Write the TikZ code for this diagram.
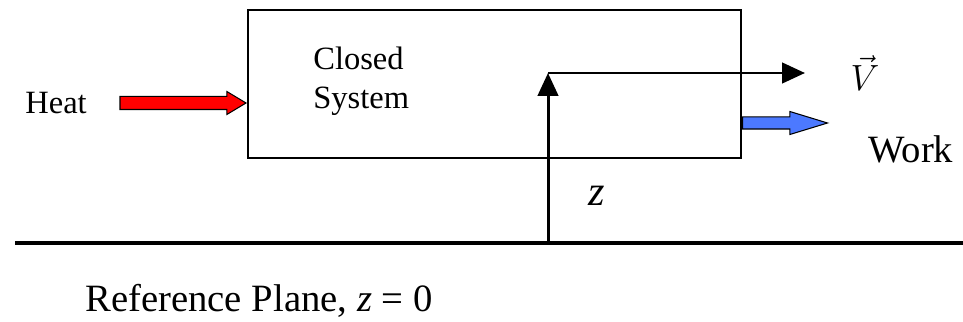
\documentclass[tikz,border=0pt]{standalone}
\usepackage{fontspec}
\setmainfont{Liberation Serif}
\usetikzlibrary{calc,arrows.meta,positioning,shapes.arrows}
\tikzset{
  sysbox/.style={draw=black, line width=1.1pt, minimum width=9.86cm, minimum height=2.96cm},
  lbl/.style={font=\fontsize{18.5}{22}\selectfont, align=left, inner sep=0pt},
  bigarrow/.style={single arrow, draw=black, line width=0.6pt, inner sep=0pt,
    single arrow head indent=0pt, shape border rotate=0},
  heatarr/.style={bigarrow, fill=red, minimum height=2.52cm, minimum width=0.44cm,
    inner ysep=0.12cm, single arrow head extend=0.1cm, single arrow tip angle=62},
  workarr/.style={bigarrow, fill=blue!75!cyan!70!white, minimum height=1.7cm, minimum width=0.44cm,
    inner ysep=0.11cm, single arrow head extend=0.11cm, single arrow tip angle=34},
  axarr/.style={-{Triangle[length=0.46cm,width=0.41cm]}, line width=1.7pt},
  ground/.style={line width=2.8pt}
}
\begin{document}
\begin{tikzpicture}
  \useasboundingbox (0,0) rectangle (19.26,6.44);

  % ---- the system ----
  \node[sysbox] (box) at (9.89,4.76) {};
  \node[lbl, anchor=west] (closed) at (6.26,4.82) {Closed\\System};

  % ---- heat in, work out ----
  \node[lbl, anchor=west] (heat) at (0.5,4.38) {Heat};
  \node[heatarr, anchor=tip] (heatin) at (box.west |- heat) {};
  \node[workarr, anchor=tail] (workout) at ($(box.east)+(0,-0.78)$) {};
  \node[lbl, anchor=west, font=\fontsize{22}{26}\selectfont] (work) at (17.36,3.45) {Work};

  % ---- reference plane and elevation ----
  \coordinate (gl) at (0.3,1.58);
  \coordinate (gr) at (19.26,1.58);
  \draw[ground] (gl) -- (gr);
  \coordinate (zfoot) at (10.96,1.58);
  \coordinate (zcorner) at (10.96,4.98);
  \coordinate (vtip) at (16.1,4.98);
  \draw[axarr] (zfoot) -- (zcorner);
  \draw[axarr] (zcorner) -- (vtip);
  \node[font=\fontsize{22}{26}\selectfont] (vlab) at (17.3,4.98) {$\vec{V}$};
  \node[font=\fontsize{24}{28}\selectfont\itshape] (zlab) at (11.94,2.52) {z};

  \node[font=\fontsize{22}{26}\selectfont] (refplane) at (5.18,0.42) {Reference Plane, \textit{z} = 0};
\end{tikzpicture}
\end{document}
